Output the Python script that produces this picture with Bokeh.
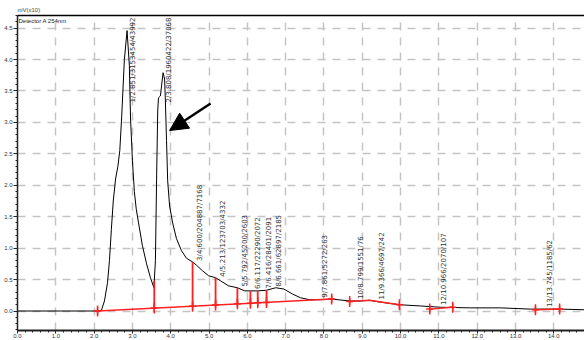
import numpy as np
from bokeh.plotting import figure
from bokeh.models import (Range1d, LinearAxis, Label, Arrow, NormalHead, ColumnDataSource,
                          SingleIntervalTicker, PrintfTickFormatter, FixedTicker)
from bokeh.core.properties import value
from bokeh.embed import file_html
from bokeh.resources import INLINE

# ---- chromatogram trace: time (min) vs signal (mV x10) ----
time_min = [0.0, 1.12, 2.09, 2.19, 2.27, 2.35, 2.40, 2.45, 2.50, 2.56, 2.62, 2.67,
            2.72, 2.79, 2.86, 2.92, 2.95, 3.00, 3.05, 3.10, 3.16, 3.26, 3.37,
            3.47, 3.56, 3.60, 3.63, 3.66, 3.68, 3.73, 3.76, 3.80, 3.84,
            3.86, 3.89, 3.92, 3.97, 4.05, 4.15, 4.28, 4.41, 4.57, 4.67,
            4.83, 4.99, 5.17, 5.30, 5.51, 5.74, 5.93, 6.08, 6.27, 6.50,
            6.74, 6.95, 7.18, 7.39, 7.62, 7.91, 8.20, 8.67, 8.96, 9.19,
            9.48, 9.97, 10.52, 11.04, 11.83, 12.61, 13.39, 14.18, 14.80]
signal = [0.0, 0.0, 0.0, 0.01, 0.16, 0.45, 0.80, 1.30, 1.75, 2.10, 2.30, 2.55,
          3.10, 4.00, 4.46, 3.90, 3.07, 2.39, 1.90, 1.62, 1.40, 1.04, 0.75,
          0.53, 0.37, 0.80, 2.07, 3.18, 3.39, 3.42, 3.58, 3.79, 3.69,
          3.34, 2.71, 2.07, 1.67, 1.40, 1.15, 0.96, 0.84, 0.78, 0.73,
          0.64, 0.56, 0.53, 0.48, 0.40, 0.37, 0.32, 0.32, 0.32, 0.33,
          0.37, 0.35, 0.27, 0.21, 0.18, 0.18, 0.19, 0.16, 0.16, 0.17,
          0.14, 0.10, 0.08, 0.06, 0.05, 0.05, 0.03, 0.03, 0.02]

# ---- peak table: no / retention time / area / height ----
peak_no = [1, 2, 3, 4, 5, 6, 7, 8, 9, 10, 11, 12, 13]
peak_rt = [2.851, 3.808, 4.600, 5.213, 5.792, 6.117, 6.416, 6.661, 7.861, 8.799, 9.366, 10.966, 13.745]
peak_area = [3153454, 1960422, 204887, 123703, 45200, 22290, 28401, 62897, 5272, 1551, 4697, 2070, 1185]
peak_height = [43992, 37068, 7168, 4332, 2603, 2072, 2091, 2185, 263, 76, 242, 107, 62]

# ---- integration baselines (min, mV x10) ----
base_seg_t = [[2.09, 8.20], [8.67, 9.19, 9.97], [10.76, 11.36], [13.52, 14.15]]
base_seg_v = [[0.0, 0.19], [0.15, 0.17, 0.10], [0.03, 0.06], [0.02, 0.03]]
drop_t = [3.57, 4.57, 5.17, 5.74, 6.08, 6.27, 6.50]

# ---- annotation arrow (min, mV x10) ----
arrow_from = (5.04, 3.30)
arrow_to = (3.97, 2.87)

X_RANGE = (0.0, 14.8)
Y_RANGE = (-0.31, 4.70)

p = figure(width=584, height=340, output_backend="svg", toolbar_location=None,
           x_range=Range1d(*X_RANGE), y_range=Range1d(*Y_RANGE),
           min_border_left=17, min_border_right=0, min_border_top=15, min_border_bottom=0)
p.background_fill_color = "white"
p.border_fill_color = "white"
p.outline_line_color = None

p.title.text = "mV(x10)"
p.title.text_font = "Liberation Sans"
p.title.text_font_size = "6px"
p.title.text_font_style = "normal"
p.title.offset = 0
p.title.standoff = 6

xt = SingleIntervalTicker(interval=1.0, num_minor_ticks=5)
yt = SingleIntervalTicker(interval=0.5, num_minor_ticks=5)
p.xaxis.ticker = xt
p.yaxis.ticker = yt
p.xgrid.ticker = xt
p.ygrid.ticker = yt
for g in (p.xgrid, p.ygrid):
    g.grid_line_color = "#c4c4c4"
    g.grid_line_width = 1.5
    g.grid_line_dash = "8 7"

for ax in (p.xaxis, p.yaxis):
    ax.formatter = PrintfTickFormatter(format="%.1f")
    ax.major_label_text_font = "Liberation Sans"
    ax.major_label_text_font_size = "6px"
    ax.major_label_text_color = "#333333"
    ax.axis_line_color = "#222222"
    ax.major_tick_line_color = "#222222"
    ax.minor_tick_line_color = "#222222"
    ax.major_tick_in = 0
    ax.minor_tick_in = 0
    ax.major_tick_out = 4
    ax.minor_tick_out = 2
    ax.major_label_standoff = 1
p.xaxis.axis_line_width = 2
p.xaxis.major_tick_out = 3
p.xaxis.major_label_standoff = 0
p.yaxis.axis_line_width = 1.5

top_axis = LinearAxis(ticker=FixedTicker(ticks=[]), major_tick_line_color=None,
                      minor_tick_line_color=None, axis_line_color="black",
                      axis_line_width=1.5, major_label_standoff=0)
p.add_layout(top_axis, "above")

# chromatogram curve
p.line(time_min, signal, line_color="black", line_width=1)

# baselines
p.multi_line(base_seg_t, base_seg_v, line_color="#ff2020", line_width=1.5)

# drop lines
tA, vA = base_seg_t[0], base_seg_v[0]
drop_base = np.interp(drop_t, tA, vA)
drop_top = np.interp(drop_t, time_min, signal)
p.segment(x0=drop_t, y0=drop_base, x1=drop_t, y1=drop_top, line_color="#ff2020", line_width=1.8)

# markers
mk_t = list(drop_t) + [t for seg in base_seg_t for t in (seg[0], seg[-1])]
mk_v = list(drop_base) + [v for seg in base_seg_v for v in (seg[0], seg[-1])]
p.scatter(mk_t, mk_v, marker="cross", size=7, line_color="#ff2020", line_width=1.5)
p.scatter(mk_t, mk_v, marker="dash", angle=np.pi / 2, size=11, line_color="#ff2020", line_width=1.5)

# peak labels
labels = [f"{n}/{rt:.3f}/{a}/{h}" for n, rt, a, h in zip(peak_no, peak_rt, peak_area, peak_height)]
lab_v = np.interp(peak_rt, time_min, signal)
tall = lab_v > 3.0
src_low = ColumnDataSource(dict(x=[r for r, t in zip(peak_rt, tall) if not t],
                                y=[v for v, t in zip(lab_v, tall) if not t],
                                text=[s for s, t in zip(labels, tall) if not t]))
src_high = ColumnDataSource(dict(x=[r for r, t in zip(peak_rt, tall) if t],
                                 y=[Y_RANGE[1] for t in tall if t],
                                 text=[s for s, t in zip(labels, tall) if t]))
txt_kw = dict(text="text", angle=np.pi / 2, text_font=value("DejaVu Sans"),
              text_font_size="7px", text_color="#333333", text_baseline="top", x_offset=2)
p.text(x="x", y="y", source=src_low, text_align="left", y_offset=-2, **txt_kw)
p.text(x="x", y="y", source=src_high, text_align="right", y_offset=2, **txt_kw)

# detector label
p.add_layout(Label(x=X_RANGE[0], y=Y_RANGE[1], text="Detector A 254nm", text_font="Liberation Sans",
                   text_font_size="6px", text_baseline="top", x_offset=1, y_offset=-2,
                   text_color="#222222"))

# arrow
p.add_layout(Arrow(end=NormalHead(size=18, fill_color="black", line_color="black"),
                   x_start=arrow_from[0], y_start=arrow_from[1],
                   x_end=arrow_to[0], y_end=arrow_to[1],
                   line_color="black", line_width=2.5))

open("out.html", "w").write(file_html(p, INLINE))
